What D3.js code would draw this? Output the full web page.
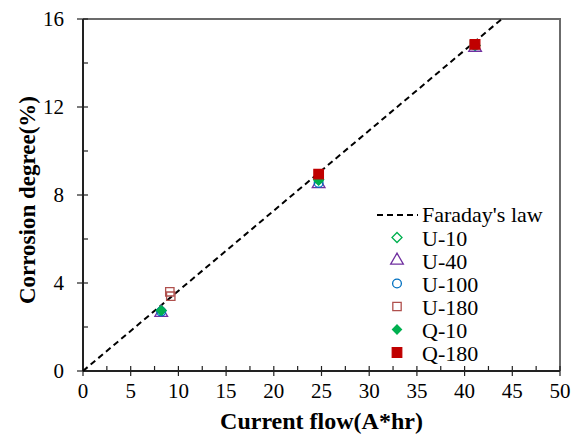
<!DOCTYPE html>
<html>
<head>
<meta charset="utf-8">
<script src="https://cdn.jsdelivr.net/npm/d3@7"></script>
<style>
  body { margin: 0; background: #fff; }
  text { font-family: "Liberation Serif", "Times New Roman", serif; }
</style>
</head>
<body>
<svg width="573" height="437"></svg>
<script>
// data
var faradayX = [0, 43.9];
var faradayY = [0, 16];

var seriesNames = ["U-10", "U-40", "U-100", "U-180", "Q-10", "Q-180"];
var seriesX = [
  [8.2, 24.7, 41.1],
  [8.2, 24.7, 41.1],
  [8.2, 24.7, 41.1],
  [9.1, 9.2, 41.0],
  [8.2, 24.7, 41.1],
  [24.7, 41.1]
];
var seriesY = [
  [2.75, 8.7, 14.8],
  [2.65, 8.5, 14.7],
  [2.7, 8.55, 14.8],
  [3.6, 3.4, 14.85],
  [2.75, 8.65, 14.8],
  [8.95, 14.85]
];

var xTicks = [0, 5, 10, 15, 20, 25, 30, 35, 40, 45, 50];
var yTicks = [0, 4, 8, 12, 16];

var svg = d3.select("svg"),
    margin = {left: 83, right: 13, top: 19, bottom: 66},
    width = +svg.attr("width"),
    height = +svg.attr("height");

var x = d3.scaleLinear().domain([0, 50]).range([margin.left, width - margin.right]);
var y = d3.scaleLinear().domain([0, 16]).range([height - margin.bottom, margin.top]);

// diamond = square turned 45 degrees
var styles = [
  {shape: d3.symbolSquare, rot: 45, size: 50, fill: "none", stroke: "#00b050"},
  {shape: d3.symbolTriangle, rot: 0, size: 70, fill: "none", stroke: "#7030a0"},
  {shape: d3.symbolCircle, rot: 0, size: 60, fill: "none", stroke: "#0070c0"},
  {shape: d3.symbolSquare, rot: 0, size: 70, fill: "none", stroke: "#b0504d"},
  {shape: d3.symbolSquare, rot: 45, size: 40, fill: "#00b050", stroke: "#00b050"},
  {shape: d3.symbolSquare, rot: 0, size: 90, fill: "#c00000", stroke: "#c00000"}
];

// box (top/right in gray)
svg.append("path")
    .attr("d", "M" + x(0) + "," + y(16) + "H" + x(50) + "V" + y(0))
    .attr("fill", "none")
    .attr("stroke", "#6b6b6b")
    .attr("stroke-width", 2);

// minor ticks (inside only)
var gx = svg.append("g");
gx.selectAll("line.minor")
    .data(d3.range(2.5, 50, 5))
  .enter().append("line")
    .attr("x1", function(d) { return x(d); })
    .attr("x2", function(d) { return x(d); })
    .attr("y1", y(0))
    .attr("y2", y(0) - 5)
    .attr("stroke", "#222")
    .attr("stroke-width", 1.2);
gx.selectAll("line.major")
    .data(xTicks)
  .enter().append("line")
    .attr("x1", function(d) { return x(d); })
    .attr("x2", function(d) { return x(d); })
    .attr("y1", y(0) + 5)
    .attr("y2", y(0) - 5)
    .attr("stroke", "#222")
    .attr("stroke-width", 1.2);
gx.selectAll("text")
    .data(xTicks)
  .enter().append("text")
    .attr("x", function(d) { return x(d); })
    .attr("y", y(0) + 27)
    .attr("text-anchor", "middle")
    .attr("font-size", 21)
    .text(function(d) { return d; });

var gy = svg.append("g");
gy.selectAll("line.minor")
    .data(d3.range(2, 16, 4))
  .enter().append("line")
    .attr("x1", x(0))
    .attr("x2", x(0) + 5)
    .attr("y1", function(d) { return y(d); })
    .attr("y2", function(d) { return y(d); })
    .attr("stroke", "#222")
    .attr("stroke-width", 1.2);
gy.selectAll("line.major")
    .data(yTicks)
  .enter().append("line")
    .attr("x1", x(0) - 6)
    .attr("x2", x(0) + 5)
    .attr("y1", function(d) { return y(d); })
    .attr("y2", function(d) { return y(d); })
    .attr("stroke", "#222")
    .attr("stroke-width", 1.2);
gy.selectAll("text")
    .data(yTicks)
  .enter().append("text")
    .attr("x", x(0) - 19)
    .attr("y", function(d) { return y(d) + 7; })
    .attr("text-anchor", "end")
    .attr("font-size", 21)
    .text(function(d) { return d; });

// axis lines
svg.append("line")
    .attr("x1", x(0)).attr("x2", x(50))
    .attr("y1", y(0)).attr("y2", y(0))
    .attr("stroke", "#222").attr("stroke-width", 2);
svg.append("line")
    .attr("x1", x(0)).attr("x2", x(0))
    .attr("y1", y(0)).attr("y2", y(16))
    .attr("stroke", "#222").attr("stroke-width", 2);

// Faraday's law line
var line = d3.line()
    .x(function(d, i) { return x(faradayX[i]); })
    .y(function(d) { return y(d); });
svg.append("path")
    .datum(faradayY)
    .attr("d", line)
    .attr("fill", "none")
    .attr("stroke", "#000")
    .attr("stroke-width", 2)
    .attr("stroke-dasharray", "6,4");

function marker(sel, st) {
  sel.attr("d", d3.symbol().type(st.shape).size(st.size)())
     .attr("fill", st.fill)
     .attr("stroke", st.stroke)
     .attr("stroke-width", 1.3);
}

// points
seriesNames.forEach(function(name, i) {
  var st = styles[i];
  svg.append("g").selectAll("path")
      .data(seriesX[i])
    .enter().append("path")
      .call(marker, st)
      .attr("transform", function(d, j) {
        return "translate(" + x(d) + "," + y(seriesY[i][j]) + ") rotate(" + st.rot + ")";
      });
});

// legend
var lg = svg.append("g").attr("transform", "translate(377,215)");
lg.append("line")
    .attr("x1", 0).attr("x2", 41)
    .attr("y1", 0).attr("y2", 0)
    .attr("stroke", "#000")
    .attr("stroke-width", 2)
    .attr("stroke-dasharray", "6,4");
lg.append("text")
    .attr("x", 45).attr("y", 7)
    .attr("font-size", 22)
    .text("Faraday's law");

seriesNames.forEach(function(name, i) {
  var st = styles[i];
  var row = lg.append("g").attr("transform", "translate(0," + (23 * (i + 1) - 0.5) + ")");
  row.append("path")
      .call(marker, st)
      .attr("transform", "translate(20,0) rotate(" + st.rot + ")");
  row.append("text")
      .attr("x", 45).attr("y", 8)
      .attr("font-size", 22)
      .text(name);
});

// axis titles
svg.append("text")
    .attr("x", (x(0) + x(50)) / 2)
    .attr("y", 429)
    .attr("text-anchor", "middle")
    .attr("font-size", 24)
    .attr("font-weight", "bold")
    .text("Current flow(A*hr)");

svg.append("text")
    .attr("transform", "translate(35,200) rotate(-90)")
    .attr("text-anchor", "middle")
    .attr("font-size", 23)
    .attr("font-weight", "bold")
    .text("Corrosion degree(%)");
</script>
</body>
</html>
